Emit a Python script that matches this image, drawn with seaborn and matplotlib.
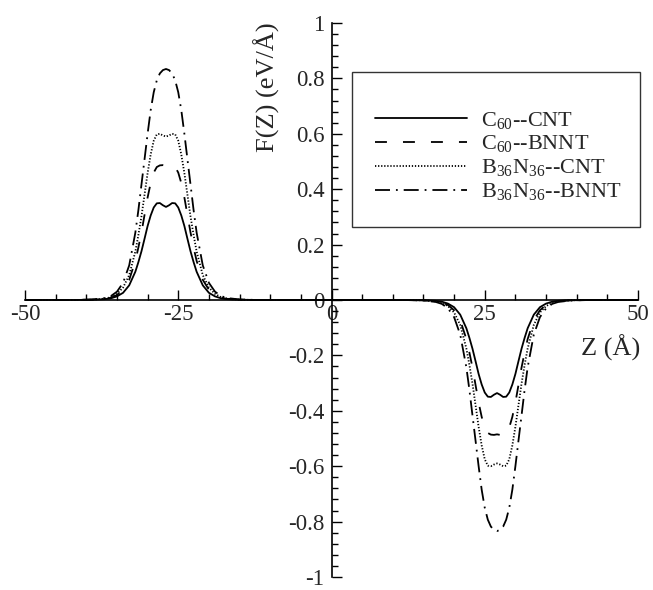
import numpy as np
import pandas as pd
import seaborn as sns
import matplotlib
matplotlib.use("Agg")
import matplotlib.pyplot as plt
from matplotlib.ticker import MultipleLocator
from matplotlib.patches import Rectangle

# Z positions (Angstrom)
z = [-50, -42, -39, -37, -36, -35, -34, -33, -32, -31.5, -31, -30.5, -30, -29.5, -29, -28.5,
     -28, -27.5, -27, -26.5, -26, -25.5, -25, -24.5, -24, -23.5, -23, -22.5, -22, -21, -20,
     -19, -18, -17, -15, -12, 0,
     12, 15, 17, 18, 19, 20, 21, 22, 22.5, 23, 23.5, 24, 24.5, 25, 25.5, 26, 26.5, 27, 27.5,
     28, 28.5, 29, 29.5, 30, 30.5, 31, 31.5, 32, 33, 34, 35, 36, 37, 39, 42, 50]

f_c60_cnt = [0, 0, 0.001, 0.003, 0.006, 0.013, 0.026, 0.053, 0.102, 0.137, 0.176, 0.221, 0.267,
             0.305, 0.334, 0.349, 0.350, 0.342, 0.336, 0.342, 0.350, 0.349, 0.334, 0.305, 0.267,
             0.221, 0.176, 0.137, 0.102, 0.053, 0.026, 0.013, 0.006, 0.003, 0.001, 0, 0,
             0, -0.001, -0.003, -0.006, -0.013, -0.026, -0.053, -0.102, -0.137, -0.176, -0.221,
             -0.267, -0.305, -0.334, -0.349, -0.350, -0.342, -0.336, -0.342, -0.350, -0.349,
             -0.334, -0.305, -0.267, -0.221, -0.176, -0.137, -0.102, -0.053, -0.026, -0.013,
             -0.006, -0.003, -0.001, 0, 0]

f_c60_bnnt = [0, 0, 0.001, 0.004, 0.008, 0.018, 0.037, 0.073, 0.141, 0.190, 0.244, 0.307, 0.370,
              0.422, 0.460, 0.480, 0.486, 0.487, 0.485, 0.487, 0.486, 0.480, 0.460, 0.422, 0.370,
              0.307, 0.244, 0.190, 0.141, 0.073, 0.037, 0.018, 0.008, 0.004, 0.001, 0, 0,
              0, -0.001, -0.004, -0.008, -0.018, -0.037, -0.073, -0.141, -0.190, -0.244, -0.307,
              -0.370, -0.422, -0.460, -0.480, -0.486, -0.487, -0.485, -0.487, -0.486, -0.480,
              -0.460, -0.422, -0.370, -0.307, -0.244, -0.190, -0.141, -0.073, -0.037, -0.018,
              -0.008, -0.004, -0.001, 0, 0]

f_bn_cnt = [0, 0, 0.001, 0.005, 0.010, 0.022, 0.045, 0.090, 0.175, 0.235, 0.302, 0.380, 0.458,
            0.525, 0.575, 0.598, 0.600, 0.594, 0.590, 0.594, 0.600, 0.598, 0.575, 0.525, 0.458,
            0.380, 0.302, 0.235, 0.175, 0.090, 0.045, 0.022, 0.010, 0.005, 0.001, 0, 0,
            0, -0.001, -0.005, -0.010, -0.022, -0.045, -0.090, -0.175, -0.235, -0.302, -0.380,
            -0.458, -0.525, -0.575, -0.598, -0.600, -0.594, -0.590, -0.594, -0.600, -0.598,
            -0.575, -0.525, -0.458, -0.380, -0.302, -0.235, -0.175, -0.090, -0.045, -0.022,
            -0.010, -0.005, -0.001, 0, 0]

f_bn_bnnt = [0, 0, 0.002, 0.007, 0.014, 0.030, 0.062, 0.125, 0.243, 0.325, 0.417, 0.508, 0.600,
             0.685, 0.750, 0.793, 0.818, 0.830, 0.834, 0.830, 0.818, 0.793, 0.750, 0.685, 0.600,
             0.508, 0.417, 0.325, 0.243, 0.125, 0.062, 0.030, 0.014, 0.007, 0.002, 0, 0,
             0, -0.002, -0.007, -0.014, -0.030, -0.062, -0.125, -0.243, -0.325, -0.417, -0.508,
             -0.600, -0.685, -0.750, -0.793, -0.818, -0.830, -0.834, -0.830, -0.818, -0.793,
             -0.750, -0.685, -0.600, -0.508, -0.417, -0.325, -0.243, -0.125, -0.062, -0.030,
             -0.014, -0.007, -0.002, 0, 0]

names = [r"C$_{60}$--CNT", r"C$_{60}$--BNNT", r"B$_{36}$N$_{36}$--CNT", r"B$_{36}$N$_{36}$--BNNT"]

x_ticks = [-50, -25, 0, 25, 50]
x_labels = ["-50", "-25", "0", "25", "50"]
y_ticks = [-1, -0.8, -0.6, -0.4, -0.2, 0, 0.2, 0.4, 0.6, 0.8, 1]
y_labels = ["-1", "-0.8", "-0.6", "-0.4", "-0.2", "0", "0.2", "0.4", "0.6", "0.8", "1"]

df = pd.DataFrame({
    "Z": z * 4,
    "F": f_c60_cnt + f_c60_bnnt + f_bn_cnt + f_bn_bnnt,
    "series": [names[0]] * len(z) + [names[1]] * len(z) + [names[2]] * len(z) + [names[3]] * len(z),
})

sns.set_style("white")
plt.rcParams["font.family"] = ["Liberation Serif", "DejaVu Serif"]
plt.rcParams["mathtext.fontset"] = "custom"
plt.rcParams["mathtext.rm"] = "Liberation Serif"
plt.rcParams["axes.unicode_minus"] = False

fig = plt.figure(figsize=(6.53, 5.90), dpi=100)
ax = fig.add_axes([25 / 653, 13 / 590, 613 / 653, 554 / 590])

dash_styles = {names[0]: "", names[1]: (6.6, 8.9), names[2]: (0.7, 1.0), names[3]: (8.3, 3.3, 1.0, 3.3)}
sns.lineplot(data=df, x="Z", y="F", hue="series", style="series",
             palette={n: "black" for n in names}, dashes=dash_styles,
             estimator=None, sort=False, legend=False, lw=1.3, ax=ax)

ax.set_xlim(-50, 50)
ax.set_ylim(-1, 1)
ax.set_xlabel("")
ax.set_ylabel("")
ax.spines["left"].set_position(("data", 0))
ax.spines["bottom"].set_position(("data", 0))
ax.spines["top"].set_visible(False)
ax.spines["right"].set_visible(False)
for s in ["left", "bottom"]:
    ax.spines[s].set_color("black")
    ax.spines[s].set_linewidth(1.2)

ax.set_xticks(x_ticks)
ax.set_xticklabels(x_labels)
ax.set_yticks(y_ticks)
ax.set_yticklabels(y_labels)
ax.xaxis.set_minor_locator(MultipleLocator(5))
ax.yaxis.set_minor_locator(MultipleLocator(0.04))
ax.tick_params(which="both", direction="in", color="black", width=1, bottom=True, left=True)
ax.tick_params(which="major", length=7)
ax.tick_params(which="minor", length=4)
ax.tick_params(axis="x", pad=3, labelsize=16.5)
ax.tick_params(axis="y", pad=5, labelsize=16.5)

fig.text(267 / 653, 1 - 87 / 590, "F(Z) (eV/Å)", rotation=90, ha="center", va="center", fontsize=19)
fig.text(640 / 653, 1 - 348 / 590, "Z (Å)", ha="right", va="center", fontsize=19)

frame = Rectangle((352 / 653, 1 - 227 / 590), 288 / 653, 155 / 590, transform=fig.transFigure,
                  fill=False, ec="#333333", lw=1)
fig.add_artist(frame)

ax.legend(ax.lines[:4], names, loc="upper left", bbox_to_anchor=(375 / 653, 1 - 110 / 590),
          bbox_transform=fig.transFigure, frameon=False, borderpad=0, borderaxespad=0,
          handlelength=4.15, handletextpad=0.6, labelspacing=0.1, fontsize=16)

fig.savefig("out.png", dpi=100)
